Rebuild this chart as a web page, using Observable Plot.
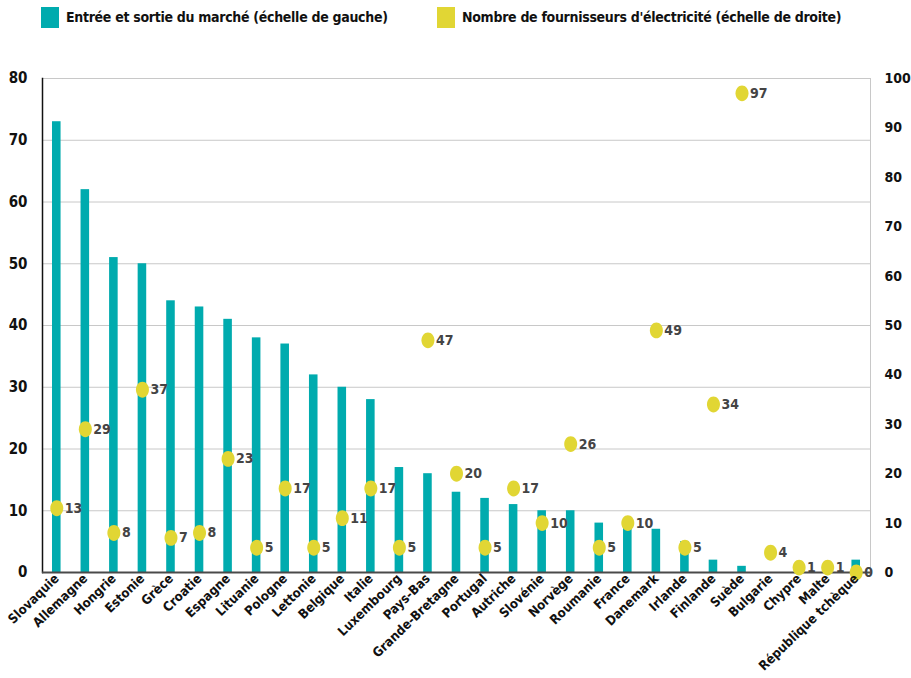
<!DOCTYPE html>
<html><head><meta charset="utf-8">
<script src="https://cdn.jsdelivr.net/npm/d3@7"></script>
<script src="https://cdn.jsdelivr.net/npm/@observablehq/plot@0.6"></script>
<style>
body{margin:0;background:#fff;font-family:"DejaVu Sans Condensed","Liberation Sans",sans-serif;}
#legend{position:relative;height:40px;width:911px;}
.sw{position:absolute;top:7px;width:18px;height:21px;}
.lt{position:absolute;top:7px;font-size:14px;letter-spacing:-0.3px;font-weight:bold;color:#111;line-height:21px;white-space:nowrap;}
</style></head><body>
<div id="legend"></div>
<div id="chart"></div>
<script>
const countries = ["Slovaquie","Allemagne","Hongrie","Estonie","Grèce","Croatie","Espagne","Lituanie","Pologne","Lettonie","Belgique","Italie","Luxembourg","Pays-Bas","Grande-Bretagne","Portugal","Autriche","Slovénie","Norvège","Roumanie","France","Danemark","Irlande","Finlande","Suède","Bulgarie","Chypre","Malte","République tchèque"];
const entryExit = [73,62,51,50,44,43,41,38,37,32,30,28,17,16,13,12,11,10,10,8,8,7,5,2,1,0,0,0,2];
const suppliers = [13,29,8,37,7,8,23,5,17,5,11,17,5,47,20,5,17,10,26,5,10,49,5,34,97,4,1,1,0];
const leftTicks = [0,10,20,30,40,50,60,70,80];
const rightTicks = [0,10,20,30,40,50,60,70,80,90,100];
const legendLabels = ["Entrée et sortie du marché (échelle de gauche)","Nombre de fournisseurs d'électricité (échelle de droite)"];
const colors = ["#00abae","#e1d634"];

const ratio = 80/100;
const data = countries.map((c,i)=>({country:c, entry:entryExit[i], n:suppliers[i], ny:suppliers[i]*ratio}));

// legend
const leg = document.getElementById("legend");
const legPos = [[41,66],[437,462]];
legendLabels.forEach((t,i)=>{
  const s=document.createElement("div"); s.className="sw"; s.style.left=legPos[i][0]+"px"; s.style.background=colors[i]; leg.appendChild(s);
  const l=document.createElement("div"); l.className="lt"; l.style.left=legPos[i][1]+"px"; l.textContent=t; leg.appendChild(l);
});

const ellipse = {draw(ctx, size){
  const r=Math.sqrt(size/Math.PI), rx=r, ry=r*1.22, k=0.5523;
  ctx.moveTo(rx,0);
  ctx.bezierCurveTo(rx,ry*k,rx*k,ry,0,ry);
  ctx.bezierCurveTo(-rx*k,ry,-rx,ry*k,-rx,0);
  ctx.bezierCurveTo(-rx,-ry*k,-rx*k,-ry,0,-ry);
  ctx.bezierCurveTo(rx*k,-ry,rx,-ry*k,rx,0);
  ctx.closePath();
}};

const chart = Plot.plot({
  width:911, height:638,
  marginTop:38, marginBottom:106, marginLeft:42, marginRight:41,
  style:{fontFamily:'"DejaVu Sans Condensed","Liberation Sans",sans-serif', background:"#fff", color:"#111"},
  x:{type:"band", domain:countries, paddingInner:0.7, paddingOuter:0.35, round:false, label:null},
  y:{domain:[0,80], label:null},
  marks:[
    Plot.gridY(leftTicks, {stroke:"#c8c8c8", strokeOpacity:1}),
    Plot.frame({stroke:"#c8c8c8"}),
    Plot.barY(data, {x:"country", y:"entry", fill:colors[0]}),
    Plot.frame({anchor:"left", stroke:"#111", strokeWidth:1.5}),
    Plot.ruleY([0], {stroke:"#4a4a4a", strokeWidth:2}),
    Plot.dot(data, {x:"country", y:"ny", r:6.5, symbol:ellipse, fill:colors[1], stroke:"none"}),
    Plot.text(data, {x:"country", y:"ny", text:d=>String(d.n), dx:8, textAnchor:"start", fill:"#444", fontSize:14, fontWeight:"bold"}),
    Plot.axisY(leftTicks, {anchor:"left", tickSize:0, tickPadding:15, fontSize:15, fontWeight:"bold", label:null}),
    Plot.axisY(rightTicks.map(v=>v*ratio), {anchor:"right", tickSize:0, tickPadding:14, fontSize:14, fontWeight:"bold", tickFormat:d=>String(Math.round(d/ratio)), label:null}),
    Plot.axisX({tickRotate:-44, tickSize:0, tickPadding:4, fontSize:13, fontWeight:"bold", label:null})
  ]
});
document.getElementById("chart").appendChild(chart);
</script>
</body></html>
